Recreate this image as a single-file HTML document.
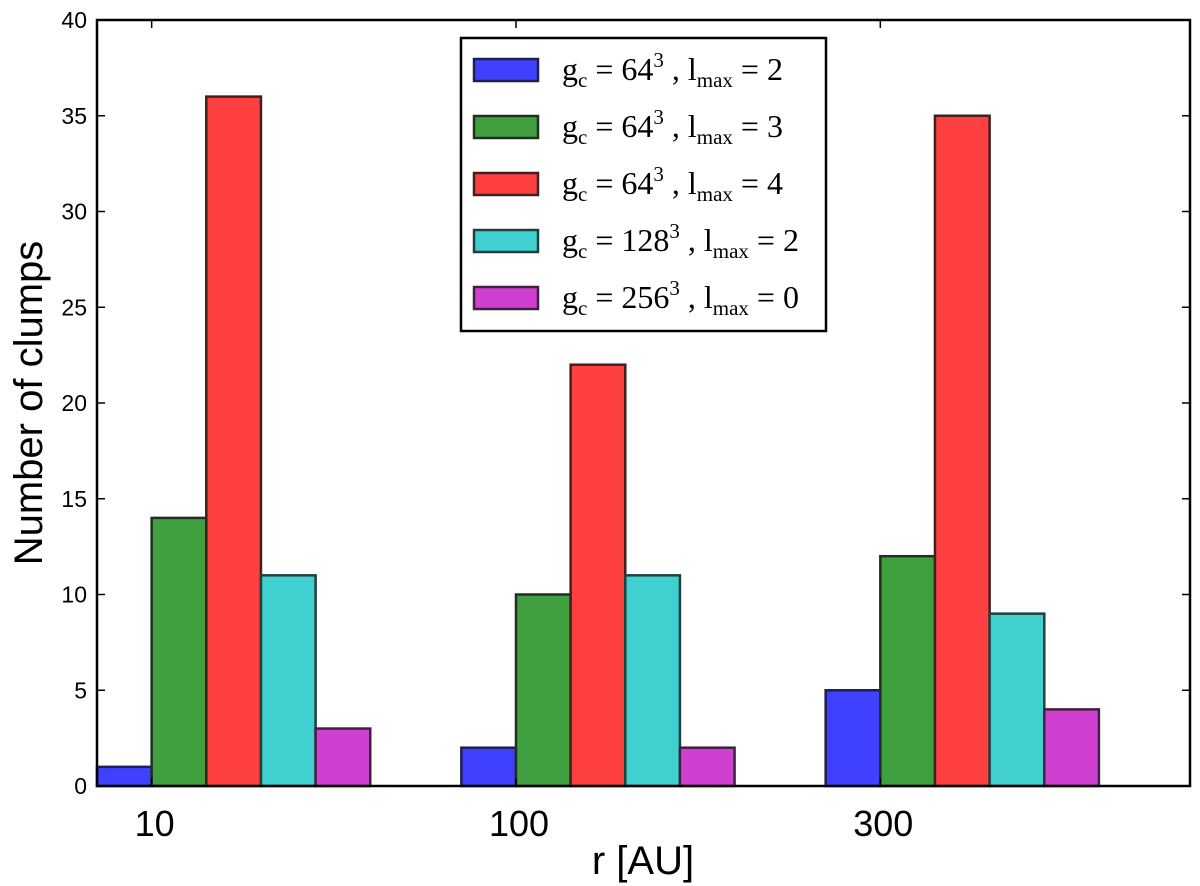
<!DOCTYPE html>
<html><head><meta charset="utf-8"><style>
body{margin:0;background:#fff;}
svg{display:block;font-family:"Liberation Sans",sans-serif;}
</style></head><body>
<svg id="chart" width="1200" height="886" xmlns="http://www.w3.org/2000/svg"></svg>
<script>
const categories=["10","100","300"];
const series1=[1,2,5];
const series2=[14,10,12];
const series3=[36,22,35];
const series4=[11,11,9];
const series5=[3,2,4];
const yTicks=[0,5,10,15,20,25,30,35,40];
const seriesLabels=[["64","2"],["64","3"],["64","4"],["128","2"],["256","0"]];
const colors=["#4040ff","#40a040","#ff4040","#40d0d0","#d040d0"];
const edges=["#202050","#203020","#402020","#204040","#402040"];
const allSeries=[series1,series2,series3,series4,series5];
const NS="http://www.w3.org/2000/svg";
const svg=document.getElementById("chart");
const L=97,R=1190,T=20,B=786;
const xs=v=>L+v*(R-L)/3;
const ys=v=>B-v*(B-T)/40;
const bw=0.15;
function mk(tag,attrs,parent){const e=document.createElementNS(NS,tag);for(const k in attrs)e.setAttribute(k,attrs[k]);(parent||svg).appendChild(e);return e;}
allSeries.forEach((s,si)=>{s.forEach((v,ci)=>{
 const x0=xs(ci+si*bw),x1=xs(ci+(si+1)*bw);
 const r=mk("rect",{x:x0,y:ys(v),width:x1-x0,height:ys(0)-ys(v),fill:colors[si],stroke:edges[si],"stroke-width":2.5});
 
 
});});
const frame=mk("rect",{x:L,y:T,width:R-L,height:B-T,fill:"none",stroke:"#000","stroke-width":2.5});


yTicks.forEach(t=>{
 const y=ys(t);
 mk("line",{x1:L,x2:L+8,y1:y,y2:y,stroke:"#000","stroke-width":1.5});
 mk("line",{x1:R,x2:R-8,y1:y,y2:y,stroke:"#000","stroke-width":1.5});
 const tx=mk("text",{x:L-10,y:y+8,"text-anchor":"end","font-size":23});
 tx.textContent=t;
 
 
});
categories.forEach((c,ci)=>{
 const x=xs(ci+bw);
 mk("line",{x1:x,x2:x,y1:B,y2:B-8,stroke:"#000","stroke-width":1.5});
 mk("line",{x1:x,x2:x,y1:T,y2:T+8,stroke:"#000","stroke-width":1.5});
 const tx=mk("text",{x:x+3,y:B+50,"text-anchor":"middle","font-size":36});
 tx.textContent=c;
 
 
});
const xt=mk("text",{x:643,y:874,"text-anchor":"middle","font-size":40});
xt.textContent="r [AU]";


const yt=mk("text",{x:42,y:403,"text-anchor":"middle","font-size":40,transform:"rotate(-90 42 403)"});
yt.textContent="Number of clumps";


const lg=mk("g",{});


mk("rect",{x:461,y:38,width:365,height:293,fill:"#fff",stroke:"#000","stroke-width":2.5},lg);
seriesLabels.forEach((lab,i)=>{
 const cy=70+i*57;
 const p=mk("rect",{x:474,y:cy-11,width:64,height:22,fill:colors[i],stroke:edges[i],"stroke-width":2.5},lg);
 
 
 const t=mk("text",{x:562,y:cy+10,"font-size":32,"font-family":"Liberation Serif, serif"},lg);
 
 
 t.innerHTML='g<tspan font-size="21" dy="7">c</tspan><tspan dy="-7"> = </tspan>'+lab[0]+'<tspan font-size="21" dy="-13">3</tspan><tspan dy="13"> , l</tspan><tspan font-size="21" dy="7">max</tspan><tspan dy="-7"> = </tspan>'+lab[1];
});
</script>
</body></html>
